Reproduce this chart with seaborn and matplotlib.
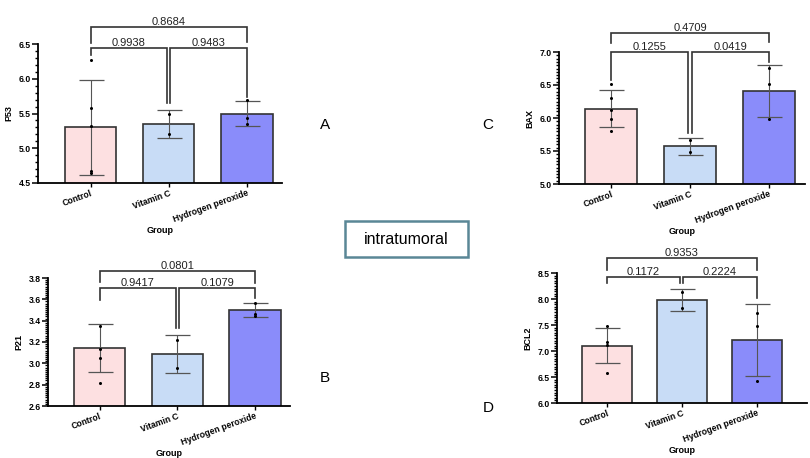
import numpy as np
import pandas as pd
import seaborn as sns
import matplotlib.pyplot as plt
from matplotlib.ticker import MultipleLocator
from matplotlib.patches import Rectangle

groups = ["Control", "Vitamin C", "Hydrogen peroxide"]
colors = ["#fde0e1", "#c8dcf6", "#8a8cfa"]

# P53
p53_mean = [5.30, 5.35, 5.50]
p53_sd = [0.68, 0.205, 0.18]
p53_points = [[6.27, 5.58, 5.32, 4.67, 4.65], [5.50, 5.20], [5.70, 5.44, 5.35]]
p53_p = ["0.9938", "0.9483", "0.8684"]

# P21
p21_mean = [3.14, 3.09, 3.50]
p21_sd = [0.225, 0.18, 0.07]
p21_points = [[3.35, 3.13, 3.05, 2.82], [3.22, 2.96], [3.57, 3.46, 3.44]]
p21_p = ["0.9417", "0.1079", "0.0801"]

# BAX
bax_mean = [6.14, 5.57, 6.41]
bax_sd = [0.28, 0.13, 0.39]
bax_points = [[6.51, 6.30, 6.12, 5.98, 5.80], [5.66, 5.48], [6.76, 6.51, 5.98]]
bax_p = ["0.1255", "0.0419", "0.4709"]

# BCL2
bcl2_mean = [7.10, 7.98, 7.21]
bcl2_sd = [0.34, 0.22, 0.70]
bcl2_points = [[7.48, 7.18, 7.12, 6.57], [8.14, 7.83], [7.74, 7.48, 6.43]]
bcl2_p = ["0.1172", "0.2224", "0.9353"]

plt.rcParams["font.family"] = ["Liberation Sans", "DejaVu Sans"]

fig = plt.figure(figsize=(8.1, 4.58), dpi=100)
W, H = 810, 458


def make_ax(left, right, top, bottom):
    return fig.add_axes([left / W, (H - bottom) / H, (right - left) / W, (bottom - top) / H])


def bracket(ax, x1, x2, y, y1, y2, text):
    ax.plot([x1, x1, x2, x2], [y1, y, y, y2], color="#333333", lw=1.2, clip_on=False,
            solid_joinstyle="miter")
    ax.text((x1 + x2) / 2, y, text, ha="center", va="bottom", fontsize=8,
            color="#222222", clip_on=False)


def panel(ax, name, means, sds, points, pvals, ylim, major, minor, xlim, br):
    sns.barplot(x=groups, y=means, hue=groups, palette=colors, legend=False,
                saturation=1, width=0.66, edgecolor="#333333", linewidth=1.2, ax=ax)
    ax.errorbar(x=range(3), y=means, yerr=sds, fmt="none", ecolor="#555555",
                elinewidth=0.8, capsize=9, capthick=0.9, zorder=3)
    pts = pd.DataFrame({"group": [g for g, p in zip(groups, points) for _ in p],
                        "value": [v for p in points for v in p]})
    sns.stripplot(data=pts, x="group", y="value", jitter=False, color="black",
                  size=2.2, ax=ax, zorder=4)
    ax.set_ylim(*ylim)
    ax.set_xlim(*xlim)
    ax.yaxis.set_major_locator(MultipleLocator(major))
    ax.yaxis.set_minor_locator(MultipleLocator(minor))
    ax.yaxis.set_major_formatter(plt.FormatStrFormatter("%.1f"))
    sns.despine(ax=ax)
    for s in ["left", "bottom"]:
        ax.spines[s].set_linewidth(1.3)
    ax.tick_params(axis="y", which="major", left=True, length=4, width=1.1,
                   labelsize=6.2, pad=1)
    ax.tick_params(axis="y", which="minor", left=True, length=2.5, width=1.0)
    ax.tick_params(axis="x", bottom=True, length=3, width=1.0, labelsize=6.2, pad=1)
    for lab in ax.get_yticklabels():
        lab.set_fontweight("bold")
    for lab in ax.get_xticklabels():
        lab.set_fontweight("bold")
        lab.set_rotation(20)
        lab.set_ha("right")
        lab.set_rotation_mode("anchor")
    ax.set_ylabel(name, fontsize=6.5, fontweight="bold", labelpad=4)
    ax.set_xlabel("Group", fontsize=6.5, fontweight="bold", labelpad=1)
    d = 0.02
    bracket(ax, 0, 1 - d, br[1], br[2], br[3], pvals[0])
    bracket(ax, 1 + d, 2, br[1], br[3], br[4], pvals[1])
    bracket(ax, 0, 2, br[0], br[5], br[6], pvals[2])


axA = make_ax(38, 282, 44, 183)
panel(axA, "P53", p53_mean, p53_sd, p53_points, p53_p, (4.5, 6.5), 0.5, 0.1,
      (-0.673, 2.45), [6.745, 6.443, 6.34, 5.651, 5.74, 6.515, 6.53])

axB = make_ax(48, 290, 278, 406)
panel(axB, "P21", p21_mean, p21_sd, p21_points, p21_p, (2.6, 3.8), 0.2, 0.02,
      (-0.667, 2.45), [3.866, 3.706, 3.594, 3.331, 3.612, 3.762, 3.753])

axC = make_ax(559, 805, 52, 184)
panel(axC, "BAX", bax_mean, bax_sd, bax_points, bax_p, (5.0, 7.0), 0.5, 0.05,
      (-0.658, 2.456), [7.288, 7.0, 6.576, 5.773, 6.85, 7.136, 7.15])

axD = make_ax(557, 807, 273, 403)
panel(axD, "BCL2", bcl2_mean, bcl2_sd, bcl2_points, bcl2_p, (6.0, 8.5), 0.5, 0.05,
      (-0.667, 2.67), [8.788, 8.423, 8.308, 8.308, 8.019, 8.558, 8.558])

for letter, x, y in [("A", 325, 125), ("B", 325, 378), ("C", 488, 125), ("D", 488, 408)]:
    fig.text(x / W, 1 - y / H, letter, fontsize=11, ha="center", va="center")

fig.patches.append(Rectangle((345 / W, 1 - 257 / H), 123 / W, 36 / H,
                             transform=fig.transFigure, facecolor="white",
                             edgecolor="#5a8796", linewidth=1.8))
fig.text(406.5 / W, 1 - 239 / H, "intratumoral", fontsize=11.5, ha="center", va="center")

fig.savefig("out.png", dpi=100)
